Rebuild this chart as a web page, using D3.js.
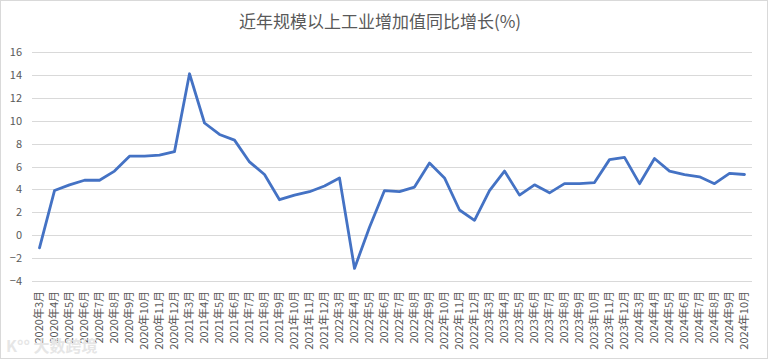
<!DOCTYPE html>
<html><head><meta charset="utf-8">
<script src="https://cdn.jsdelivr.net/npm/d3@7"></script>
<style>body{margin:0;background:#fff;}svg{display:block;}</style>
</head><body>
<svg id="c" width="768" height="359"></svg>
<script>
const title = "近年规模以上工业增加值同比增长(%)";
const months = [
 "2020年3月","2020年4月","2020年5月","2020年6月","2020年7月","2020年8月","2020年9月","2020年10月","2020年11月","2020年12月",
 "2021年3月","2021年4月","2021年5月","2021年6月","2021年7月","2021年8月","2021年9月","2021年10月","2021年11月","2021年12月",
 "2022年3月","2022年4月","2022年5月","2022年6月","2022年7月","2022年8月","2022年9月","2022年10月","2022年11月","2022年12月",
 "2023年3月","2023年4月","2023年5月","2023年6月","2023年7月","2023年8月","2023年9月","2023年10月","2023年11月","2023年12月",
 "2024年3月","2024年4月","2024年5月","2024年6月","2024年7月","2024年8月","2024年9月","2024年10月"];
const growth = [
 -1.1,3.9,4.4,4.8,4.8,5.6,6.9,6.9,7.0,7.3,
 14.1,9.8,8.8,8.3,6.4,5.3,3.1,3.5,3.8,4.3,
 5.0,-2.9,0.7,3.9,3.8,4.2,6.3,5.0,2.2,1.3,
 3.9,5.6,3.5,4.4,3.7,4.5,4.5,4.6,6.6,6.8,
 4.5,6.7,5.6,5.3,5.1,4.5,5.4,5.3];
const yTicks = [-4,-2,0,2,4,6,8,10,12,14,16];

const svg = d3.select("#c");
const W = 768, H = 359;
const L = 32, R = 752, T = 52, B = 281;
const font = "'Microsoft YaHei','Noto Sans CJK SC',sans-serif";

svg.append("rect").attr("x",0.5).attr("y",0.5).attr("width",W-1).attr("height",H-1)
  .attr("fill","#fff").attr("stroke","#d9d9d9");

const x = d3.scaleBand().domain(months).range([L,R]);
const y = d3.scaleLinear().domain([-4,16]).range([B,T]);

// grid
svg.append("g").selectAll("line").data(yTicks).join("line")
  .attr("x1",L).attr("x2",R).attr("y1",d=>Math.round(y(d))+0.5).attr("y2",d=>Math.round(y(d))+0.5)
  .attr("stroke","#d9d9d9").attr("stroke-width",1);

// y labels
const yAxis = d3.axisLeft(y).tickValues(yTicks).tickSize(0).tickPadding(0);
const gy = svg.append("g").attr("transform",`translate(22,0)`).call(yAxis);
gy.select(".domain").remove();
gy.selectAll("text").attr("fill","#595959").style("font-family",font).style("font-size","11px");

// x labels
const xAxis = d3.axisBottom(x).tickSize(0).tickPadding(0);
const gx = svg.append("g").attr("transform",`translate(0,${B+10})`).call(xAxis);
gx.select(".domain").remove();
gx.selectAll("text")
  .attr("fill","#595959").style("font-family",font).style("font-size","11px")
  .attr("text-anchor","end").attr("dy","0.35em").attr("dx",0).attr("y",0)
  .attr("transform","rotate(-90)");

// line
const line = d3.line().x((d,i)=>x(months[i])+x.bandwidth()/2).y(d=>y(d));
svg.append("path").datum(growth).attr("d",line)
  .attr("fill","none").attr("stroke","#4472C4").attr("stroke-width",2.8)
  .attr("stroke-linejoin","round").attr("stroke-linecap","round");

// title
svg.append("text").attr("x",380).attr("y",28).attr("text-anchor","middle")
  .attr("fill","#595959").style("font-family",font).style("font-size","17px").text(title);

// watermark
svg.append("text").attr("x",6).attr("y",352).attr("fill","#e6e6e6")
  .style("font-family",font).style("font-size","16px").style("font-weight","bold").text("K°° 大数跨境");
</script>
</body></html>
